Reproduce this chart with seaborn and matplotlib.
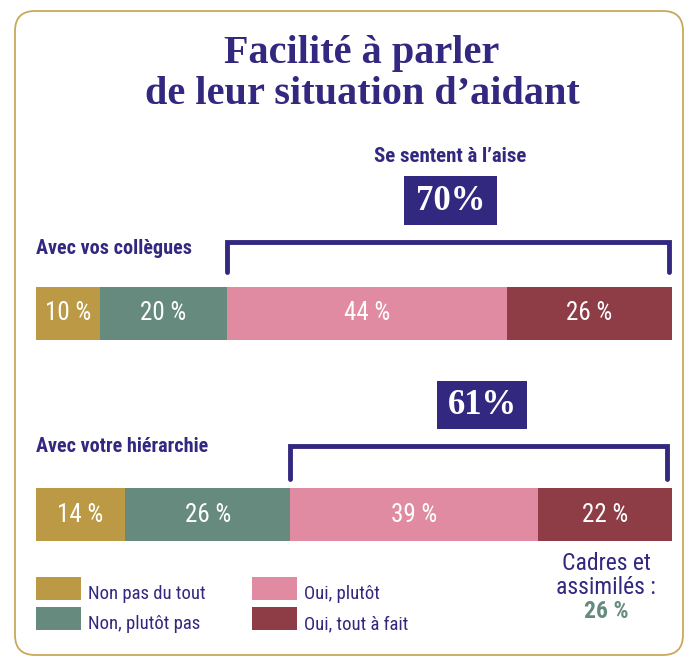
import matplotlib
matplotlib.use('Agg')
import matplotlib.pyplot as plt
import seaborn as sns
import pandas as pd
from matplotlib.patches import FancyBboxPatch, Rectangle

## Data
rows = ['Avec vos collègues', 'Avec votre hiérarchie']
categories = ['Non pas du tout', 'Non, plutôt pas', 'Oui, plutôt', 'Oui, tout à fait']
non_pas_du_tout = [10, 14]
non_plutot_pas = [20, 26]
oui_plutot = [44, 39]
oui_tout_a_fait = [26, 22]
a_l_aise = ['70%', '61%']
cadres_value = 26

colors = ['#BC9A45', '#668A7E', '#E08BA2', '#8E3D47']
navy = '#32287F'
gold_border = '#C9A85A'

sns.set_theme(style='white')
plt.rcParams['font.family'] = ['Roboto Condensed', 'Liberation Sans Narrow', 'Liberation Sans', 'DejaVu Sans']

df = pd.DataFrame({'row': rows,
                   categories[0]: non_pas_du_tout,
                   categories[1]: non_plutot_pas,
                   categories[2]: oui_plutot,
                   categories[3]: oui_tout_a_fait})
cum = df[categories].cumsum(axis=1)

W, H = 684, 659
fig = plt.figure(figsize=(W / 100, H / 100), dpi=100)

# background overlay in pixel coords
bg = fig.add_axes([0, 0, 1, 1])
bg.set_xlim(0, W)
bg.set_ylim(H, 0)
bg.axis('off')
bg.add_patch(FancyBboxPatch((15, 11), 668, 644, boxstyle='round,pad=0,rounding_size=20',
                            fc='white', ec=gold_border, lw=1.3))

serif = ['Liberation Serif', 'DejaVu Serif']
bg.text(362, 54, 'Facilité à parler', ha='center', va='center', color=navy,
        fontsize=29, fontweight='bold', family=serif)
bg.text(362, 95, 'de leur situation d\u2019aidant', ha='center', va='center', color=navy,
        fontsize=29, fontweight='bold', family=serif)

bg.text(450, 157, 'Se sentent à l\u2019aise', ha='center', va='center', color=navy,
        fontsize=15, fontweight='bold')
bg.text(36, 248, rows[0], ha='left', va='center', color=navy, fontsize=14.5, fontweight='bold')
bg.text(36, 446, rows[1], ha='left', va='center', color=navy, fontsize=14.5, fontweight='bold')

# boxes with the "à l'aise" totals
boxes = [(404, 176, 93, 49), (437, 381, 90, 48)]
for (bx, by, bw, bh), val in zip(boxes, a_l_aise):
    bg.add_patch(Rectangle((bx, by), bw, bh, fc=navy, ec='none'))
    bg.text(bx + bw / 2, by + bh / 2 + 1, val, ha='center', va='center', color='white',
            fontsize=25, fontweight='bold', family=serif)

# bars axis
x0, x1, y0, y1 = 36, 672, 287, 541
ax = fig.add_axes([x0 / W, (H - y1) / H, (x1 - x0) / W, (y1 - y0) / H])
bar_h = 53 / 201.5
for i in range(len(categories) - 1, -1, -1):
    sns.barplot(x=cum[categories[i]], y=df['row'], orient='h', color=colors[i],
                width=bar_h, saturation=1, ax=ax, edgecolor='none')
ax.set_xlim(0, 100)
ax.set_ylim(1 + bar_h / 2, -bar_h / 2)
ax.axis('off')

# value labels
for r in range(len(rows)):
    left = 0
    for i, c in enumerate(categories):
        right = min(cum.loc[r, c], 100)
        ax.text((left + right) / 2, r, f'{df.loc[r, c]} %', ha='center', va='center',
                color='white', fontsize=18)
        left = right

# brackets over the "oui" part
tops = [-bar_h / 2 - 45 / 201.5, 1 - bar_h / 2 - 42 / 201.5]
legs = [-bar_h / 2 - 15 / 201.5, 1 - bar_h / 2 - 9 / 201.5]
ends = [99.5, 99.2]
for r in range(len(rows)):
    start = cum.loc[r, categories[1]]
    ax.plot([start, start, ends[r], ends[r]], [legs[r], tops[r], tops[r], legs[r]],
            color=navy, lw=3.5, clip_on=False, solid_joinstyle='miter')

# legend
leg_items = [(36, 577), (36, 607), (252, 577), (252, 607)]
for (lx, ly), c, lab in zip(leg_items, colors, categories):
    bg.add_patch(Rectangle((lx, ly), 45, 23, fc=c, ec='none'))
    bg.text(lx + 52, ly + 17, lab, ha='left', va='center', color=navy, fontsize=13.5)

bg.text(606, 563, 'Cadres et', ha='center', va='center', color=navy, fontsize=17)
bg.text(606, 587, 'assimilés :', ha='center', va='center', color=navy, fontsize=17)
bg.text(606, 611, f'{cadres_value} %', ha='center', va='center', color=colors[1],
        fontsize=17, fontweight='bold')

fig.savefig('out.png', dpi=100)
